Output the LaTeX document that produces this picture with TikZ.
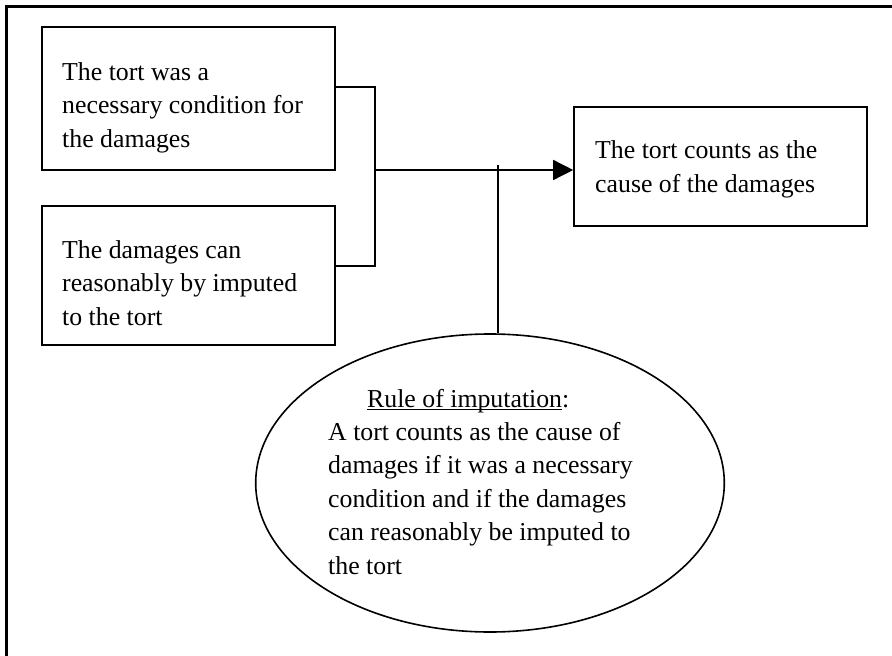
\documentclass[tikz,border=0pt]{standalone}
\usepackage{fontspec}
\setmainfont{Liberation Serif}
\usetikzlibrary{shapes.geometric,arrows.meta}
\newcommand\myunderl[1]{\setbox0\hbox{#1}\rlap{\rule[-2.6pt]{\wd0}{1.1pt}}#1}
\tikzset{
  boxnode/.style={draw, line width=1.6pt, rectangle, inner sep=0pt},
  txt/.style={anchor=base west, align=left, inner sep=0pt, font=\fontsize{25.8}{33.5}\selectfont},
  conn/.style={line width=1.5pt},
}
\begin{document}
\begin{tikzpicture}[x=1pt,y=-1pt]
\useasboundingbox (0,0) rectangle (892,656);
\fill[white] (0,0) rectangle (892,656);
% frame (top and left edges)
\draw[line width=3.2pt] (6.5,656) -- (6.5,6.5) -- (892,6.5);
% boxes
\node[boxnode, minimum width=293pt, minimum height=143pt] (b1) at (188.5,98.5) {};
\node[boxnode, minimum width=293pt, minimum height=139pt] (b2) at (188.5,275.5) {};
\node[boxnode, minimum width=293pt, minimum height=119pt] (b3) at (720.5,166.5) {};
\node[draw, ellipse, line width=1.6pt, inner sep=0pt, minimum width=468.6pt, minimum height=298pt] (ell) at (490,483) {};
% texts (anchored at the baseline of their last line)
\node[txt] (t1) at (62,147) {The tort was a\\necessary condition for\\the damages};
\node[txt] (t2) at (62,325) {The damages can\\reasonably by imputed\\to the tort};
\node[txt] (t3) at (595,192) {The tort counts as the\\cause of the damages};
\node[txt] (t4) at (367,407) {\myunderl{Rule of imputation}:};
\node[txt] (t5) at (328,574) {A tort counts as the cause of\\damages if it was a necessary\\condition and if the damages\\can reasonably be imputed to\\the tort};
% connectors
\coordinate (jn) at (375,170);
\coordinate (jv) at (498,165);
\draw[conn] ([yshift=11.5pt]b1.east) -| (jn);
\draw[conn] ([yshift=9.5pt]b2.east) -| (jn);
\draw[conn, -{Triangle[length=20pt,width=20pt]}] (jn) -- (jn -| b3.west);
\draw[conn] (jv) -- (jv |- ell.north);
\end{tikzpicture}
\end{document}
